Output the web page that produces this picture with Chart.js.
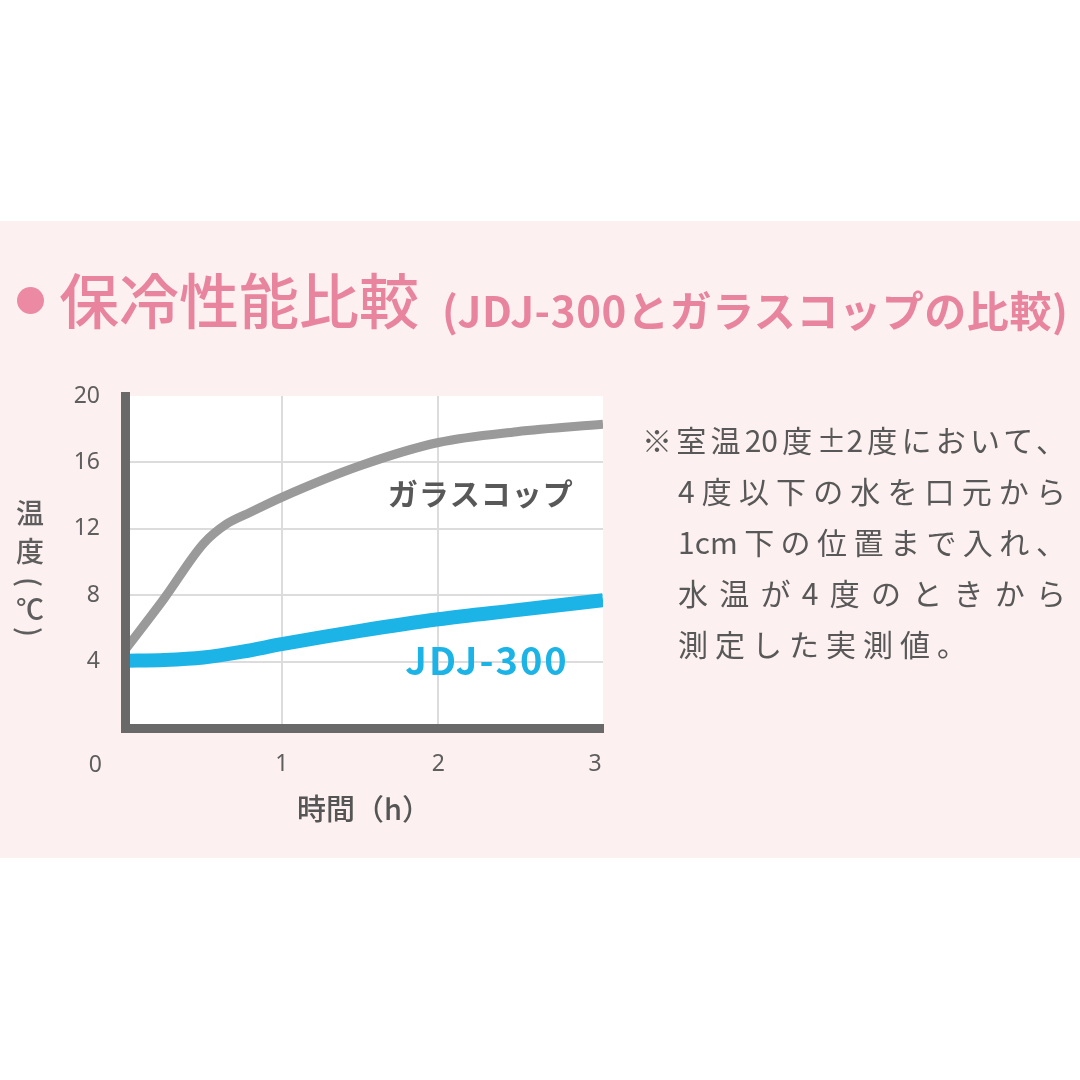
<!DOCTYPE html>
<html lang="ja">
<head>
<meta charset="utf-8">
<script src="https://cdn.jsdelivr.net/npm/chart.js@4.4.1/dist/chart.umd.min.js"></script>
<style>
  html, body { margin:0; padding:0; background:#fff; }
  body { width:1080px; height:1080px; position:relative; overflow:hidden; font-family:"Noto Sans CJK JP","Noto Sans",sans-serif; }
  .band { position:absolute; left:0; top:221px; width:1080px; height:637px; background:#fcf0f0; }
  .dot { position:absolute; left:17px; top:287px; width:27px; height:27px; border-radius:50%; background:#ec8aa3; }
  .ttl { position:absolute; white-space:nowrap; color:#e8849e; line-height:1; }
  .ttl.main { left:59px; top:268px; font-size:60px; font-weight:500; }
  .ttl.sub { left:442px; top:288px; font-size:42px; font-weight:700; letter-spacing:0.6px; }
  #chart { position:absolute; left:0; top:0; }
  .note { position:absolute; color:#585858; font-size:30px; line-height:51px; white-space:nowrap; }
  .note div { text-align:justify; text-align-last:justify; }
  .note div.last { text-align:left; text-align-last:left; letter-spacing:7px; }
</style>
</head>
<body>
<div class="band"></div>
<canvas id="chart" width="1080" height="1080"></canvas>
<div class="dot"></div>
<div class="ttl main">保冷性能比較</div>
<div class="ttl sub">(JDJ-300とガラスコップの比較)</div>
<div class="note" style="left:642px;top:414px;width:424px">
  <div>※室温20度±2度において、</div>
</div>
<div class="note" style="left:678px;top:465px;width:388px">
  <div>4度以下の水を口元から</div>
  <div>1cm下の位置まで入れ、</div>
  <div>水温が4度のときから</div>
  <div class="last">測定した実測値。</div>
</div>
<script>
// (hours / ℃)
const glassHours = [0, 0.25, 0.5, 0.65, 0.8, 1, 1.5, 2, 2.5, 3.05];
const glassTemps = [4.7, 7.8, 11.1, 12.3, 13.0, 13.9, 15.8, 17.2, 17.85, 18.3];
const jdjHours = [0, 0.25, 0.5, 0.75, 1, 1.5, 2, 2.5, 3.05];
const jdjTemps = [4.05, 4.1, 4.25, 4.6, 5.05, 5.85, 6.55, 7.1, 7.7];
const xTicks = [1, 2, 3];
const yTicks = [4, 8, 12, 16, 20];
const seriesNames = ['ガラスコップ', 'JDJ-300'];

const GRAY = '#9a9a9a';
const CYAN = '#1cb4e6';
const AXIS = '#696969';
const TXT = '#5e5e5e';
const FONT = '"Noto Sans CJK JP","Noto Sans",sans-serif';
const NUMFONT = '"Noto Sans","Noto Sans CJK JP",sans-serif';

const toPts = (xs, ys) => xs.map((x, i) => ({ x, y: ys[i] }));

const decor = {
  id: 'decor',
  beforeDraw(chart) {
    const { ctx, chartArea: a } = chart;
    ctx.save();
    ctx.fillStyle = '#fff';
    ctx.fillRect(a.left, a.top, a.right - a.left, a.bottom - a.top);
    ctx.restore();
  },
  afterDraw(chart) {
    const { ctx, scales: { x, y } } = chart;
    ctx.save();
    // origin label
    ctx.fillStyle = TXT;
    ctx.font = `23px ${NUMFONT}`;
    ctx.textAlign = 'right';
    ctx.textBaseline = 'middle';
    ctx.fillText('0', x.getPixelForValue(0) - 23, y.getPixelForValue(0) + 37);

    // stacked y title
    ctx.font = `500 28px ${FONT}`;
    ctx.textAlign = 'center';
    const cx = 30, mid = (y.top + y.bottom) / 2;
    const chars = [['温', -49, 0], ['度', -11, 0], ['(', 20, 1], ['℃', 47, 0], [')', 70, 1]];
    chars.forEach(([c, dy, rot]) => {
      if (rot) {
        ctx.save();
        ctx.translate(cx, mid + dy);
        ctx.rotate(Math.PI / 2);
        ctx.fillText(c, 0, 0);
        ctx.restore();
      } else {
        ctx.fillText(c, cx, mid + dy);
      }
    });

    // series labels
    ctx.font = `700 30px ${FONT}`;
    ctx.letterSpacing = '1px';
    ctx.fillStyle = '#585858';
    ctx.fillText(seriesNames[0], x.getPixelForValue(2.27), y.getPixelForValue(14.15));
    ctx.font = `700 38px ${FONT}`;
    ctx.letterSpacing = '2px';
    ctx.fillStyle = CYAN;
    ctx.fillText(seriesNames[1], x.getPixelForValue(2.31), y.getPixelForValue(4.05));
    ctx.restore();
  }
};

new Chart(document.getElementById('chart'), {
  type: 'line',
  data: {
    datasets: [
      { label: seriesNames[0], data: toPts(glassHours, glassTemps), borderColor: GRAY, borderWidth: 9,
        cubicInterpolationMode: 'monotone', pointRadius: 0, clip: 0 },
      { label: seriesNames[1], data: toPts(jdjHours, jdjTemps), borderColor: CYAN, borderWidth: 14,
        cubicInterpolationMode: 'monotone', pointRadius: 0, clip: 0 }
    ]
  },
  options: {
    responsive: false,
    animation: false,
    layout: { padding: { left: 0, top: 396, right: 477, bottom: 254 } },
    plugins: { legend: { display: false }, tooltip: { enabled: false } },
    scales: {
      x: {
        type: 'linear', min: 0, max: 3.05,
        afterFit: s => { s.height = 98; },
        afterBuildTicks: s => { s.ticks = xTicks.map(v => ({ value: v })); },
        grid: { color: c => c.tick && c.tick.value < 3 ? '#dcdcdc' : 'rgba(0,0,0,0)', lineWidth: 2, drawTicks: false },
        border: { color: AXIS, width: 9, z: 1 },
        ticks: { color: TXT, font: { family: NUMFONT, size: 23 }, padding: 23, maxRotation: 0 },
        title: { display: true, text: '時間（h）', color: '#555', font: { family: FONT, size: 29, weight: '500' }, padding: 0 }
      },
      y: {
        min: 0, max: 20,
        afterFit: s => { s.width = 125; },
        afterBuildTicks: s => { s.ticks = yTicks.map(v => ({ value: v })); },
        grid: { color: c => c.tick && c.tick.value < 20 ? '#dcdcdc' : 'rgba(0,0,0,0)', lineWidth: 2, drawTicks: false },
        border: { color: AXIS, width: 9, z: 1 },
        ticks: { color: TXT, font: { family: NUMFONT, size: 23 }, padding: 25 }
      }
    }
  },
  plugins: [decor]
});
</script>
</body>
</html>
